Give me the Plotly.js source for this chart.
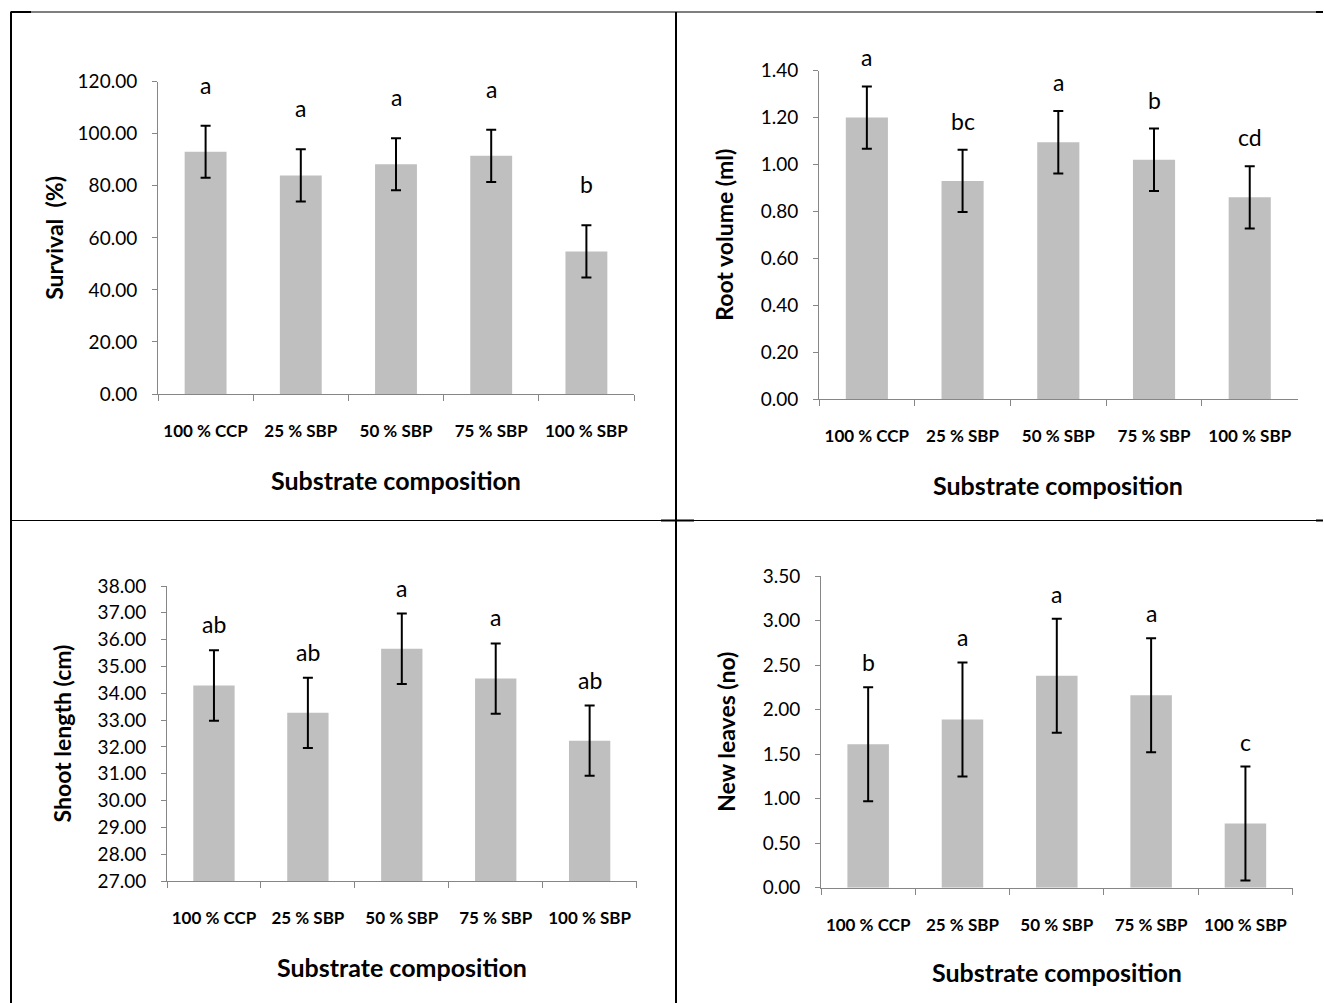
<!DOCTYPE html>
<html>
<head>
<meta charset="utf-8">
<script src="https://cdn.plot.ly/plotly-3.0.1.min.js"></script>
<style>
  html, body { margin: 0; padding: 0; background: #ffffff; }
  #chart { width: 1324px; height: 1003px; }
</style>
</head>
<body>
<div id="chart"></div>
<script>
// ---------- data ----------
const categories = ['100 % CCP', '25 % SBP', '50 % SBP', '75 % SBP', '100 % SBP'];

const survival        = [93.1, 84.0, 88.3, 91.5, 54.8];
const survivalErr     = [10.0, 10.0, 10.0, 10.0, 10.0];
const survivalLetters = ['a', 'a', 'a', 'a', 'b'];

const rootVolume        = [1.20, 0.93, 1.095, 1.02, 0.86];
const rootVolumeErr     = [0.133, 0.133, 0.133, 0.133, 0.133];
const rootVolumeLetters = ['a', 'bc', 'a', 'b', 'cd'];

const shootLength        = [34.29, 33.27, 35.66, 34.55, 32.23];
const shootLengthErr     = [1.31, 1.31, 1.31, 1.31, 1.31];
const shootLengthLetters = ['ab', 'ab', 'a', 'a', 'ab'];

const newLeaves        = [1.61, 1.89, 2.38, 2.16, 0.72];
const newLeavesErr     = [0.64, 0.64, 0.64, 0.64, 0.64];
const newLeavesLetters = ['b', 'a', 'a', 'a', 'c'];

const yTitles = ['Survival \u00a0(%)', 'Root volume (ml)', 'Shoot length (cm)', 'New leaves (no)'];
const xTitle = 'Substrate composition';

// ---------- layout helpers ----------
const W = 1324, H = 1003;
const fx = p => p / W;
const fy = p => 1 - p / H;
const FONT = 'Lato, "Open Sans", Arial, sans-serif';
const AXIS_COLOR = '#868686';
const BAR_COLOR = '#bfbfbf';

const panels = [
  { vals: survival,    err: survivalErr,    letters: survivalLetters,    yTitle: yTitles[0],
    range: [0, 120], dtick: 20,  px0: 158, px1: 634,    py0: 81.7, py1: 394,
    yTitleX: 54,  xTitleY: 480, letterShift: 25 },
  { vals: rootVolume,  err: rootVolumeErr,  letters: rootVolumeLetters,  yTitle: yTitles[1],
    range: [0, 1.4], dtick: 0.2, px0: 819, px1: 1297.6, py0: 70.7, py1: 399,
    yTitleX: 724, xTitleY: 485, letterShift: 13 },
  { vals: shootLength, err: shootLengthErr, letters: shootLengthLetters, yTitle: yTitles[2],
    range: [27, 38], dtick: 1,   px0: 167, px1: 636.6,  py0: 586,  py1: 881,
    yTitleX: 61,  xTitleY: 967, letterShift: 10 },
  { vals: newLeaves,   err: newLeavesErr,   letters: newLeavesLetters,   yTitle: yTitles[3],
    range: [0, 3.5], dtick: 0.5, px0: 821, px1: 1292.6, py0: 576,  py1: 887.7,
    yTitleX: 726, xTitleY: 972, letterShift: 9 }
];

const data = [];
const annotations = [];
const layout = {
  width: W, height: H,
  margin: { l: 0, r: 0, t: 0, b: 0 },
  paper_bgcolor: '#ffffff',
  plot_bgcolor: 'rgba(0,0,0,0)',
  showlegend: false,
  bargap: 0.56,
  font: { family: FONT, color: '#000000' },
  annotations: annotations,
  shapes: []
};

panels.forEach((p, i) => {
  const n = i + 1;
  const xa = 'x' + (n === 1 ? '' : n);
  const ya = 'y' + (n === 1 ? '' : n);
  data.push({
    type: 'bar',
    x: categories,
    y: p.vals,
    xaxis: xa, yaxis: ya,
    marker: { color: BAR_COLOR, line: { width: 0 } },
    error_y: { type: 'data', array: p.err, visible: true, color: '#000000', thickness: 2, width: 5 },
    hoverinfo: 'x+y'
  });
  layout['xaxis' + (n === 1 ? '' : n)] = {
    domain: [fx(p.px0), fx(p.px1)],
    anchor: ya,
    type: 'category',
    range: [-0.5, 4.5],
    showline: true, linecolor: AXIS_COLOR, linewidth: 1,
    ticks: 'outside', tickson: 'boundaries', ticklen: 6, tickcolor: AXIS_COLOR, tickwidth: 1,
    showgrid: false, zeroline: false,
    tickangle: 0,
    tickfont: { family: FONT, size: 17, weight: 'bold', color: '#000000' },
    ticklabelstandoff: 22,
    fixedrange: true
  };
  layout['yaxis' + (n === 1 ? '' : n)] = {
    domain: [fy(p.py1), fy(p.py0)],
    anchor: xa,
    range: p.range,
    dtick: p.dtick, tick0: p.range[0],
    tickformat: '.2f',
    showline: true, linecolor: AXIS_COLOR, linewidth: 1,
    ticks: 'outside', ticklen: 5, tickcolor: AXIS_COLOR, tickwidth: 1,
    showgrid: false, zeroline: false,
    tickfont: { family: FONT, size: 19, color: '#000000' },
    ticklabelstandoff: 11,
    fixedrange: true
  };
  // significance letters above each error bar
  p.letters.forEach((t, k) => {
    annotations.push({
      xref: xa, yref: ya,
      x: categories[k], y: p.vals[k] + p.err[k],
      text: t, showarrow: false,
      yanchor: 'bottom', yshift: p.letterShift,
      font: { family: FONT, size: 23, color: '#000000' }
    });
  });
  // axis titles
  annotations.push({
    xref: 'paper', yref: 'paper',
    x: fx((p.px0 + p.px1) / 2), y: fy(p.xTitleY),
    xanchor: 'center', yanchor: 'middle',
    text: '<b>' + xTitle + '</b>', showarrow: false,
    font: { family: FONT, size: 25, color: '#000000' }
  });
  annotations.push({
    xref: 'paper', yref: 'paper',
    x: fx(p.yTitleX), y: fy((p.py0 + p.py1) / 2),
    xanchor: 'center', yanchor: 'middle', textangle: -90,
    text: '<b>' + p.yTitle + '</b>', showarrow: false,
    font: { family: FONT, size: 23, color: '#000000' }
  });
});

// table-like frame lines around the four panels
const line = (x0, y0, x1, y1, w) => ({
  type: 'line', xref: 'paper', yref: 'paper',
  x0: fx(x0), y0: fy(y0), x1: fx(x1), y1: fy(y1),
  line: { color: '#000000', width: w }
});
layout.shapes.push(
  line(10, 12, 1323, 12, 1),
  line(11, 12, 11, 1003, 2),
  line(676, 12, 676, 1003, 2),
  line(10, 520.5, 1323, 520.5, 1),
  line(11, 12, 31, 12, 2),
  line(661, 520.5, 694, 520.5, 2),
  line(1316, 12, 1323, 12, 2),
  line(1316, 520.5, 1323, 520.5, 2)
);

Plotly.newPlot('chart', data, layout, { displayModeBar: false, staticPlot: true });
</script>
</body>
</html>
